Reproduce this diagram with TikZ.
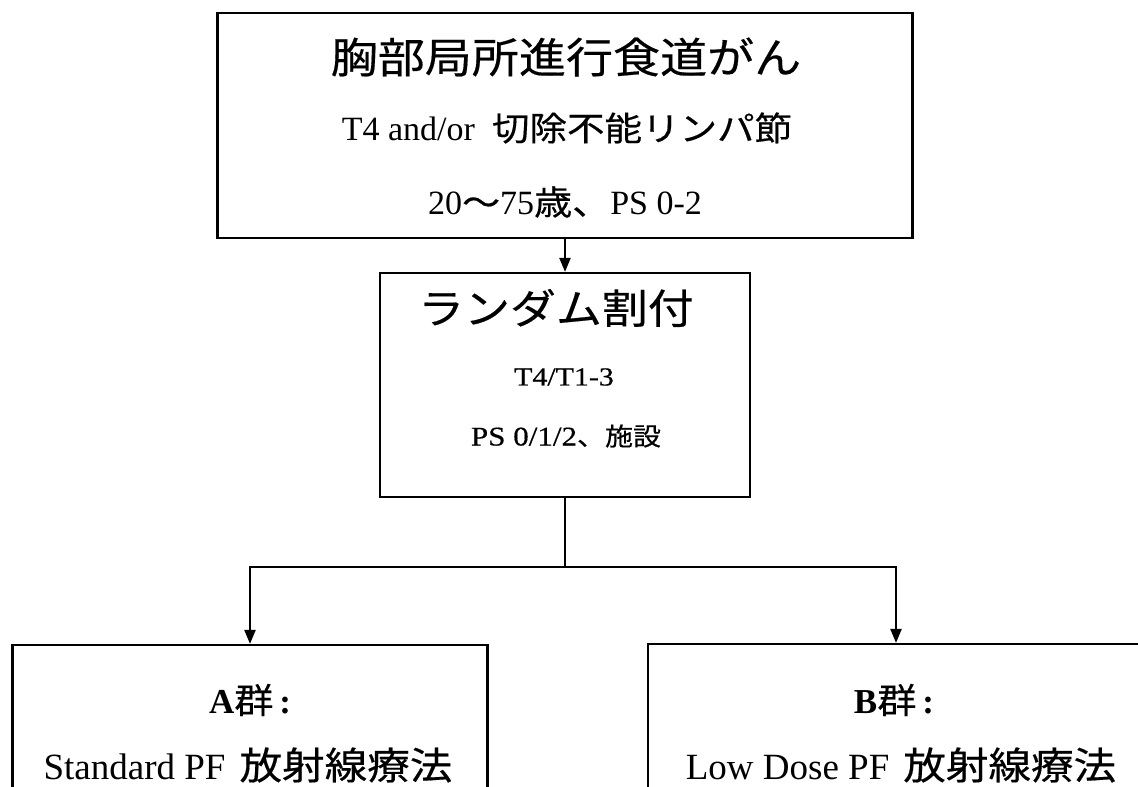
\documentclass[tikz,border=0pt]{standalone}
\usepackage{fontspec}
\setmainfont{Liberation Serif}
\newfontfamily\jp[FakeStretch=1.12,FakeBold=0.4]{Noto Sans CJK JP}
\newfontfamily\latwide[FakeStretch=1.15,FakeBold=0.5]{Liberation Serif}
\usetikzlibrary{arrows.meta}
\tikzset{
  box/.style={draw, line width=2.2pt, rectangle, inner sep=0pt},
  txt/.style={inner sep=0pt, anchor=center},
  conn/.style={line width=2.2pt},
  arr/.style={conn, -{Triangle[length=14pt,width=11pt]}}
}
\begin{document}
\begin{tikzpicture}[x=1pt,y=-1pt]
\useasboundingbox (0,0) rectangle (1138,787);
\fill[white] (0,0) rectangle (1138,787);

% top box
\node[box, minimum width=695pt, minimum height=225pt] (top) at (565,125.5) {};
\node[txt] (t1) at (566,57) {\jp\fontsize{42}{42}\selectfont 胸部局所進行食道がん};
\node[txt] (t2) at (567,128) {\fontsize{34}{34}\selectfont T4 and/or\ \ {\jp\fontsize{33.5}{34}\selectfont 切除不能リンパ節}};
\node[txt] (t3) at (565,202) {\fontsize{34}{34}\selectfont 20{\jp ～}75{\jp 歳、}PS 0-2};

% middle box
\node[box, minimum width=370pt, minimum height=224pt] (mid) at (565,385) {};
\node[txt] (m1) at (556,308) {\jp\fontsize{41}{41}\selectfont ランダム割付};
\node[txt] (m2) at (564,377) {\latwide\fontsize{26}{26}\selectfont T4/T1-3};
\node[txt] (m3) at (566,436) {\latwide\fontsize{27}{27}\selectfont PS 0/1/2{\jp\fontsize{25}{25}\selectfont 、施設}};

% bottom boxes
\begin{scope}
\clip (0,0) rectangle (1138,787);
\node[box, minimum width=475pt, minimum height=200pt] (A) at (250,745) {};
\node[box, minimum width=496pt, minimum height=200pt] (B) at (896,744) {};
\end{scope}
\node[txt] (a1) at (250,700) {\fontsize{35}{35}\selectfont\bfseries A{\jp\mdseries 群}\,:};
\node[txt] (a2) at (248,765) {\fontsize{37}{37}\selectfont Standard PF\hspace{14pt}{\jp\fontsize{38}{38}\selectfont 放射線療法}};
\node[txt] (b1) at (894,700) {\fontsize{35}{35}\selectfont\bfseries B{\jp\mdseries 群}\,:};
\node[txt] (b2) at (901,765) {\fontsize{37}{37}\selectfont Low Dose PF\hspace{14pt}{\jp\fontsize{38}{38}\selectfont 放射線療法}};

% connectors
\coordinate (split) at (565,567);
\draw[arr] (top.south) -- (mid.north);
\draw[conn] (mid.south) -- (split);
\draw[arr] (split) -| (A.north);
\draw[arr] (split) -| (B.north);
\end{tikzpicture}
\end{document}
